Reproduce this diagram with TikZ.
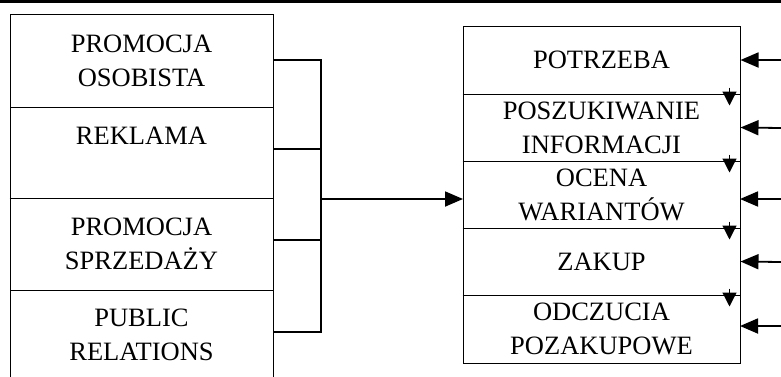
\documentclass[tikz,border=0pt]{standalone}
\usepackage{fontspec}
\setmainfont{Liberation Serif}
\usetikzlibrary{arrows.meta}
\begin{document}
\begin{tikzpicture}[x=1pt,y=-1pt,
  box/.style={draw,line width=1pt,inner sep=0pt,align=center,
    font=\fontsize{26.5}{34}\selectfont},
  lbox/.style={box,minimum width=263pt},
  rbox/.style={box,minimum width=277pt},
  conn/.style={line width=1.8pt},
  bigtip/.style={-{Triangle[length=18pt,width=15pt]},line width=1.8pt},
  smalltip/.style={-{Triangle[length=14pt,width=14pt]},line width=1.2pt}]
\useasboundingbox (0,0) rectangle (781,376);
% top rule
\draw[line width=3pt] (0,1.5) -- (781,1.5);
% left boxes
\node[lbox,minimum height=93pt] (l1) at (141.5,60.5) {PROMOCJA\\OSOBISTA};
\node[lbox,minimum height=91pt] (l2) at (141.5,152.5) {REKLAMA\\\mbox{}};
\node[lbox,minimum height=92pt] (l3) at (141.5,244) {PROMOCJA\\SPRZEDAŻY};
\node[lbox,minimum height=90pt] (l4) at (141.5,335) {PUBLIC\\RELATIONS};
\draw[line width=1.8pt] (l2.south west) -- (l2.south east);
% right boxes
\node[rbox,minimum height=68pt] (r1) at (601.5,60) {POTRZEBA};
\node[rbox,minimum height=67pt] (r2) at (601.5,127.5) {POSZUKIWANIE\\INFORMACJI};
\node[rbox,minimum height=67pt] (r3) at (601.5,194.5) {OCENA\\WARIANTÓW};
\node[rbox,minimum height=67pt] (r4) at (601.5,261.5) {ZAKUP};
\node[rbox,minimum height=68pt] (r5) at (601.5,329) {ODCZUCIA\\POZAKUPOWE};
\foreach \a in {r1,r2,r3,r4}{
  \draw[line width=1.8pt] (\a.south west) -- (\a.south east);
}
% small down arrows
\foreach \a in {r1,r2,r3,r4}{
  \coordinate (\a d1) at ([xshift=-11pt,yshift=7pt]\a.south east);
  \coordinate (\a d2) at ([xshift=-11pt,yshift=-11pt]\a.south east);
  \draw[smalltip] (\a d1) -- (\a d2);
}
% bracket
\coordinate (bt) at (321,60);
\coordinate (bb) at (321,332);
\coordinate (b2) at (321,149);
\coordinate (b3) at (321,240);
\coordinate (e1) at (273,60);
\coordinate (e2) at (273,149);
\coordinate (e3) at (273,240);
\coordinate (e4) at (273,332);
\draw[conn] (e1) -- (bt) -- (bb) -- (e4);
\draw[conn] (e2) -- (b2);
\draw[conn] (e3) -- (b3);
\coordinate (bm) at (321,199);
\coordinate (r3in) at (463,199);
\draw[bigtip] (bm) -- (r3in);
% right incoming arrows
\coordinate (o1) at (781,60);
\coordinate (o2) at (781,128);
\coordinate (o3) at (781,199);
\coordinate (o4) at (781,262);
\coordinate (o5) at (781,326);
\coordinate (i3) at (740,199);
\coordinate (i5) at (740,326);
\draw[bigtip] (o1) -- (r1.east);
\draw[bigtip] (o2) -- (r2.east);
\draw[bigtip] (o3) -- (i3);
\draw[bigtip] (o4) -- (r4.east);
\draw[bigtip] (o5) -- (i5);
\end{tikzpicture}
\end{document}
